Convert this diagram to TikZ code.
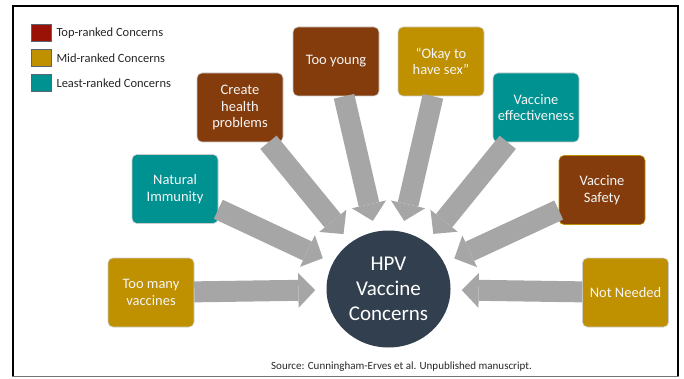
\documentclass[tikz,border=0pt]{standalone}
\usepackage{fontspec}
\setmainfont{Carlito}
\usetikzlibrary{arrows.meta,shapes.geometric,positioning}

\definecolor{toprank}{HTML}{9A1205}
\definecolor{midrank}{HTML}{BF9000}
\definecolor{leastrank}{HTML}{009291}
\definecolor{rankbrown}{HTML}{843C0C}
\definecolor{hubslate}{HTML}{323F4F}
\definecolor{pushgray}{HTML}{A6A6A6}

\begin{document}
\begin{tikzpicture}[x=1pt, y=-1pt,
    concern/.style={rectangle, rounded corners=5pt, draw=white!80!black, line width=0.6pt,
        minimum width=86pt, minimum height=69pt, inner sep=2pt, align=center,
        text=white!96!black, font=\fontsize{14.5}{16.5}\selectfont},
    keybox/.style={rectangle, draw=hubslate!80, line width=0.6pt,
        minimum width=20pt, minimum height=17pt, inner sep=0pt},
    keytext/.style={inner sep=0pt, text=black!85, font=\fontsize{12.5}{14}\selectfont},
    pusharrow/.style={draw=pushgray, line width=21pt,
        -{Triangle[length=17pt, width=35pt, line width=0pt]}, shorten >=11pt}
]
    \useasboundingbox (0,0) rectangle (684,379);

    % Frame
    \draw[line width=2pt] (13,377) -- (13,6) -- (678,6) -- (678,377);
    \draw[black!55, line width=1.5pt] (12,376.5) -- (679,376.5);

    % Legend
    \node[keybox, fill=toprank] (topkey) at (41,33) {};
    \node[keybox, fill=midrank] (midkey) at (41,58) {};
    \node[keybox, fill=leastrank] (leastkey) at (41,83) {};
    \node[keytext, right=5pt of topkey] (toptext) {Top-ranked Concerns};
    \node[keytext, right=5pt of midkey] (midtext) {Mid-ranked Concerns};
    \node[keytext, right=5pt of leastkey] (leasttext) {Least-ranked Concerns};

    % Hub
    \node[ellipse, fill=hubslate, minimum width=124pt, minimum height=117pt, inner sep=0pt,
        align=center, text=white, font=\fontsize{21}{25}\selectfont] (hpv) at (388.5,289)
        {HPV\\Vaccine\\Concerns};

    % Concerns
    \node[concern, fill=midrank] (toomany) at (151,292.5) {Too many\\vaccines};
    \node[concern, fill=leastrank] (natural) at (175,189) {Natural\\Immunity};
    \node[concern, fill=rankbrown] (health) at (240,107.5) {Create\\health\\problems};
    \node[concern, fill=rankbrown] (young) at (336,61.5) {Too young};
    \node[concern, fill=midrank] (okay) at (441,61.5) {“Okay to\\have sex”};
    \node[concern, fill=leastrank] (effect) at (536,107.5) {Vaccine\\effectiveness};
    \node[concern, fill=rankbrown, draw=midrank] (safety) at (602,190) {Vaccine\\Safety};
    \node[concern, fill=midrank] (notneeded) at (625.5,292.5) {Not Needed};

    % Arrows into the hub
    \foreach \c in {toomany,natural,health,young,okay,effect,safety,notneeded}
        \draw[pusharrow] (\c) -- (hpv);

    % Source
    \node[text=black!85, font=\fontsize{11}{13}\selectfont] (source) at (401.5,367)
        {Source: Cunningham-Erves et al. Unpublished manuscript.};

\end{tikzpicture}
\end{document}
